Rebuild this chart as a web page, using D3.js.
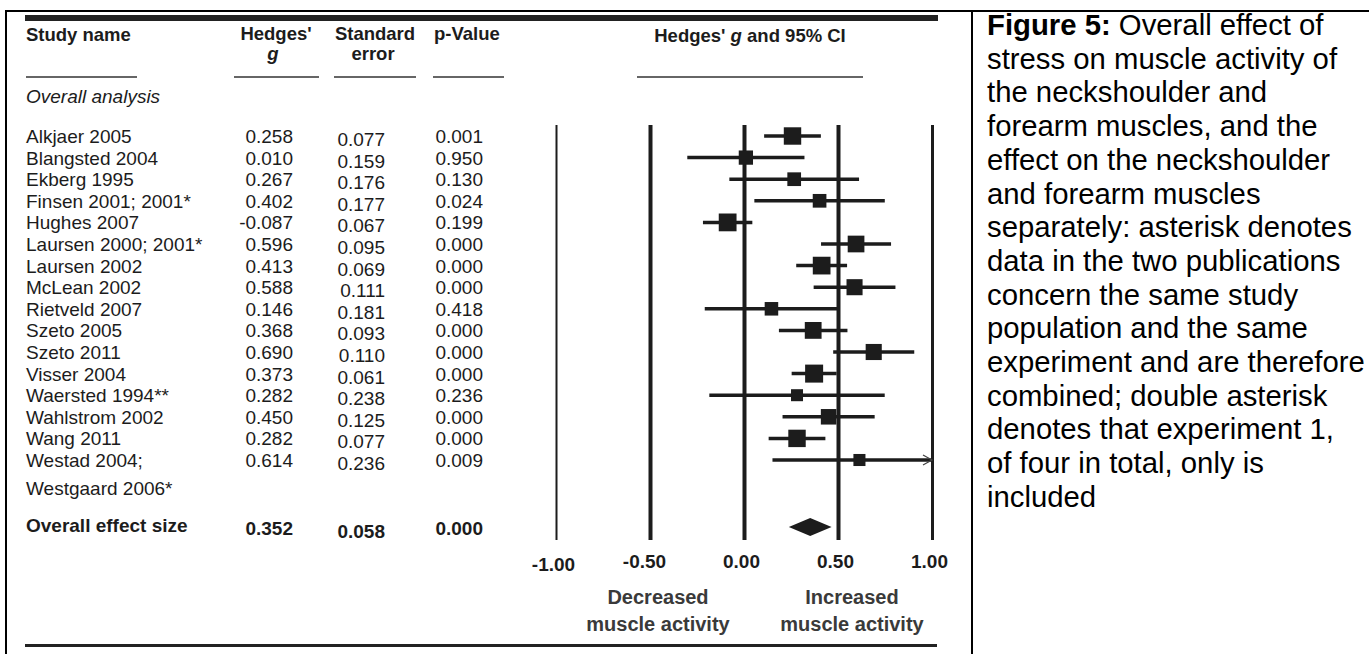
<!DOCTYPE html>
<html lang="en">
<head>
<meta charset="UTF-8">
<title>Forest plot - Hedges' g</title>
<script src="https://d3js.org/d3.v7.min.js"></script>
<style>
    html,body{margin:0;padding:0;background:#fff;}
    svg{display:block;}
    text{font-family:"Liberation Sans",Arial,Helvetica,sans-serif;}
</style>
</head>
<body>
<svg id="chart" width="1369" height="654"></svg>
<script>
// data
const studies = ['Alkjaer 2005','Blangsted 2004','Ekberg 1995','Finsen 2001; 2001*','Hughes 2007',
    'Laursen 2000; 2001*','Laursen 2002','McLean 2002','Rietveld 2007','Szeto 2005','Szeto 2011',
    'Visser 2004','Waersted 1994**','Wahlstrom 2002','Wang 2011','Westad 2004;'];
const hedgesG = [0.258,0.010,0.267,0.402,-0.087,0.596,0.413,0.588,0.146,0.368,0.690,0.373,0.282,0.450,0.282,0.614];
const stdErr  = [0.077,0.159,0.176,0.177,0.067,0.095,0.069,0.111,0.181,0.093,0.110,0.061,0.238,0.125,0.077,0.236];
const pValue  = [0.001,0.950,0.130,0.024,0.199,0.000,0.000,0.000,0.418,0.000,0.000,0.000,0.236,0.000,0.000,0.009];
const overall = {g:0.352, se:0.058, p:0.000};
const ticks = [-1,-0.5,0,0.5,1];
const captionLines = ['stress on muscle activity of','the neckshoulder and','forearm muscles, and the',
    'effect on the neckshoulder','and forearm muscles','separately: asterisk denotes',
    'data in the two publications','concern the same study','population and the same',
    'experiment and are therefore','combined; double asterisk','denotes that experiment 1,',
    'of four in total, only is','included'];

const svg = d3.select('#chart');
const ink = '#1c1c1c';
const f3 = v => v.toFixed(3);

// frame of the table cell
svg.append('line').attr('x1',5).attr('x2',1369).attr('y1',11).attr('y2',11).attr('stroke','#000').attr('stroke-width',2);
svg.append('line').attr('x1',6).attr('x2',6).attr('y1',10).attr('y2',654).attr('stroke','#000').attr('stroke-width',2);
svg.append('line').attr('x1',972).attr('x2',972).attr('y1',10).attr('y2',654).attr('stroke','#000').attr('stroke-width',2);

// heavy rules top and bottom of figure
svg.append('rect').attr('x',25).attr('y',15).attr('width',913).attr('height',6).attr('fill','#222');
svg.append('rect').attr('x',25).attr('y',644).attr('width',912).attr('height',3).attr('fill','#222');

const x = d3.scaleLinear().domain([0,0.5]).range([744,838]);
const y = d3.scaleLinear().domain([0,studies.length-1]).range([136,460]);

// weights (random effects style) -> box size
const tau2 = 0.02;
const w = stdErr.map(s=>1/(s*s+tau2));
const boxSize = d3.scaleSqrt().domain(d3.extent(w)).range([12,18]);

// header
const head = svg.append('g').attr('font-weight','bold').attr('font-size',18.5).attr('fill',ink);
head.append('text').attr('x',26).attr('y',41).text('Study name');
head.append('text').attr('x',276).attr('y',40).attr('text-anchor','middle').text("Hedges'");
head.append('text').attr('x',273).attr('y',60).attr('text-anchor','middle').attr('font-style','italic').text('g');
head.append('text').attr('x',375).attr('y',40).attr('text-anchor','middle').text('Standard');
head.append('text').attr('x',373).attr('y',60).attr('text-anchor','middle').text('error');
head.append('text').attr('x',434).attr('y',40).text('p-Value');
const ciHead = head.append('text').attr('x',750).attr('y',42).attr('text-anchor','middle');
ciHead.append('tspan').text("Hedges' ");
ciHead.append('tspan').attr('font-style','italic').text('g');
ciHead.append('tspan').text(' and 95% CI');

[[26,137],[234,319],[334,416],[433,504],[637,863]].forEach(([a,b])=>{
    svg.append('line').attr('x1',a).attr('x2',b).attr('y1',77).attr('y2',77)
        .attr('stroke','#333').attr('stroke-width',1.6);
});

svg.append('text').attr('x',26).attr('y',103).attr('font-size',19)
    .attr('font-style','italic').attr('fill',ink).text('Overall analysis');

// table rows
const rows = svg.append('g').attr('font-size',19).attr('fill',ink);
rows.selectAll('.name').data(studies).join('text')
    .attr('class','name').attr('x',26).attr('y',(d,i)=>y(i)+7).text(d=>d);
rows.selectAll('.g').data(hedgesG).join('text')
    .attr('class','g').attr('x',293).attr('y',(d,i)=>y(i)+7).attr('text-anchor','end').text(f3);
rows.selectAll('.se').data(stdErr).join('text')
    .attr('class','se').attr('x',385).attr('y',(d,i)=>y(i)+10).attr('text-anchor','end').text(f3);
rows.selectAll('.p').data(pValue).join('text')
    .attr('class','p').attr('x',483).attr('y',(d,i)=>y(i)+7).attr('text-anchor','end').text(f3);
rows.append('text').attr('x',26).attr('y',495).text('Westgaard 2006*');

const ovY = 527;
const ov = svg.append('g').attr('font-size',19).attr('font-weight','bold').attr('fill',ink);
ov.append('text').attr('x',26).attr('y',ovY+5).text('Overall effect size');
ov.append('text').attr('x',293).attr('y',ovY+8).attr('text-anchor','end').text(f3(overall.g));
ov.append('text').attr('x',385).attr('y',ovY+11).attr('text-anchor','end').text(f3(overall.se));
ov.append('text').attr('x',483).attr('y',ovY+8).attr('text-anchor','end').text(f3(overall.p));

// reference lines via axis
const axis = d3.axisBottom(x).tickValues(ticks).tickSize(-(540-125)).tickPadding(0)
    .tickFormat(d3.format('.2f'));
const ax = svg.append('g').attr('transform','translate(0,540)').call(axis);
ax.select('.domain').remove();
ax.selectAll('.tick line').attr('stroke',ink).attr('stroke-width',d=>d===-1?2:(d===1?3:4));
ax.selectAll('.tick text')
    .attr('font-family','"Liberation Sans",Arial,sans-serif')
    .attr('font-size',19).attr('font-weight','bold').attr('fill',ink)
    .attr('dy',0).attr('y',d=>d===-1?31:28).attr('x',d=>d===-0.5?-6:-3)
    .text(d=>d3.format('.2f')(d).replace('−','-'));

const lab = svg.append('g').attr('font-size',20).attr('font-weight','bold')
    .attr('fill','#3a3a3a').attr('text-anchor','middle');
[[x(-0.5)+8,'Decreased'],[x(0.5)+14,'Increased']].forEach(([cx,t])=>{
    lab.append('text').attr('x',cx).attr('y',604).text(t);
    lab.append('text').attr('x',cx).attr('y',631).text('muscle activity');
});

// CI lines and boxes
const xMax = x(1);
const plot = svg.append('g');
plot.selectAll('.ci').data(hedgesG).join('line').attr('class','ci')
    .attr('x1',(d,i)=>x(d-1.96*stdErr[i]))
    .attr('x2',(d,i)=>Math.min(x(d+1.96*stdErr[i]),xMax))
    .attr('y1',(d,i)=>y(i)).attr('y2',(d,i)=>y(i))
    .attr('stroke',ink).attr('stroke-width',3.5);
plot.selectAll('.box').data(hedgesG).join('rect').attr('class','box')
    .attr('x',(d,i)=>x(d)-boxSize(w[i])/2)
    .attr('y',(d,i)=>y(i)-boxSize(w[i])/2)
    .attr('width',(d,i)=>boxSize(w[i]))
    .attr('height',(d,i)=>boxSize(w[i]))
    .attr('fill',ink);
// arrow for CI running past the axis end
hedgesG.forEach((d,i)=>{
    if(x(d+1.96*stdErr[i])>xMax){
        plot.append('path')
            .attr('d',`M${xMax-9},${y(i)-5}L${xMax},${y(i)}L${xMax-9},${y(i)+5}`)
            .attr('fill','none').attr('stroke','#444').attr('stroke-width',1.2);
    }
});

// overall diamond
const lo = x(overall.g-1.96*overall.se), hi = x(overall.g+1.96*overall.se), mid = x(overall.g);
plot.append('path')
    .attr('d',`M${lo},${ovY}L${mid},${ovY-9}L${hi},${ovY}L${mid},${ovY+9}Z`)
    .attr('fill',ink);

// caption
const cap = svg.append('text').attr('font-size',29.3).attr('fill','#000');
const first = cap.append('tspan').attr('x',987).attr('y',35);
first.append('tspan').attr('font-weight','bold').text('Figure 5:');
first.append('tspan').text(' Overall effect of');
cap.selectAll('.cl').data(captionLines).join('tspan').attr('class','cl')
    .attr('x',987).attr('y',(d,i)=>35+(i+1)*33.7).text(d=>d);
</script>
</body>
</html>
